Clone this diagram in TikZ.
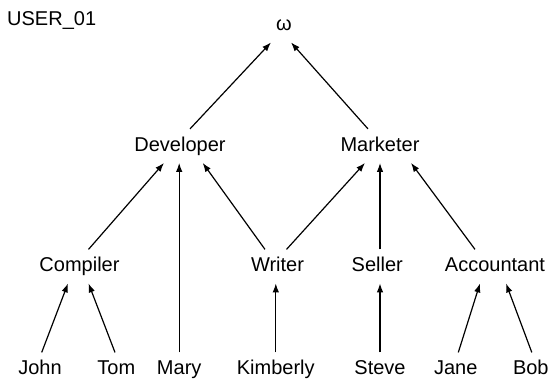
\documentclass[tikz,border=0pt]{standalone}
\usepackage{fontspec}
\setmainfont{Liberation Sans}
\usetikzlibrary{arrows.meta}

\tikzset{
  lbl/.style={font=\fontsize{20}{24}\selectfont, anchor=base,
    inner xsep=2pt, inner ysep=7.5pt, text height=14.4pt, text depth=4.2pt},
  arr/.style={line width=1.2pt, -{Latex[length=9pt,width=6.5pt]}}
}

\begin{document}
\begin{tikzpicture}[x=1pt, y=-1pt]
  \useasboundingbox (0,0) rectangle (551,383);

  % title
  \node[font=\fontsize{20}{24}\selectfont, anchor=base west, inner sep=0pt] (title) at (7,25) {USER\_01};

  % top element
  \node[lbl] (omega) at (284,30.5) {ω};

  % roles
  \node[lbl] (dev) at (180,151) {Developer};
  \node[lbl] (mkt) at (380,151) {Marketer};

  % sub-roles
  \node[lbl] (comp)   at (79.5,271.5)  {Compiler};
  \node[lbl] (writer) at (277.5,271.5) {Writer};
  \node[lbl] (seller) at (377.3,271.5) {Seller};
  \node[lbl] (acct)   at (495,271.5)   {Accountant};

  % users
  \node[lbl] (john)  at (40,374.5)    {John};
  \node[lbl] (tom)   at (116.3,374.5) {Tom};
  \node[lbl] (mary)  at (179.2,374.5) {Mary};
  \node[lbl] (kim)   at (275.8,374.5) {Kimberly};
  \node[lbl] (steve) at (380,374.5)   {Steve};
  \node[lbl] (jane)  at (455.8,374.5) {Jane};
  \node[lbl] (bob)   at (530.8,374.5) {Bob};

  % roles -> top
  \draw[arr] ([xshift=10pt]dev.north) -- ([xshift=-13pt]omega.south);
  \draw[arr] ([xshift=-12pt]mkt.north) -- ([xshift=7pt]omega.south);

  % sub-roles and users -> roles
  \draw[arr] ([xshift=9pt]comp.north) -- ([xshift=-16pt]dev.south);
  \draw[arr] (mary.north) -- (mary.north |- dev.south);
  \draw[arr] ([xshift=-12.5pt]writer.north) -- ([xshift=22.7pt]dev.south);
  \draw[arr] ([xshift=9pt]writer.north) -- ([xshift=-15pt]mkt.south);
  \draw[arr] (mkt.south |- seller.north) -- (mkt.south);
  \draw[arr] ([xshift=-20pt]acct.north) -- ([xshift=31pt]mkt.south);

  % users -> sub-roles
  \draw[arr] ([xshift=1.7pt]john.north) -- ([xshift=-11.5pt]comp.south);
  \draw[arr] ([xshift=-1.3pt]tom.north) -- ([xshift=9pt]comp.south);
  \draw[arr] (kim.north) -- (kim.north |- writer.south);
  \draw[arr] (steve.north) -- (steve.north |- seller.south);
  \draw[arr] ([xshift=2.5pt]jane.north) -- ([xshift=-15pt]acct.south);
  \draw[arr] ([xshift=1pt]bob.north) -- ([xshift=11pt]acct.south);
\end{tikzpicture}
\end{document}
